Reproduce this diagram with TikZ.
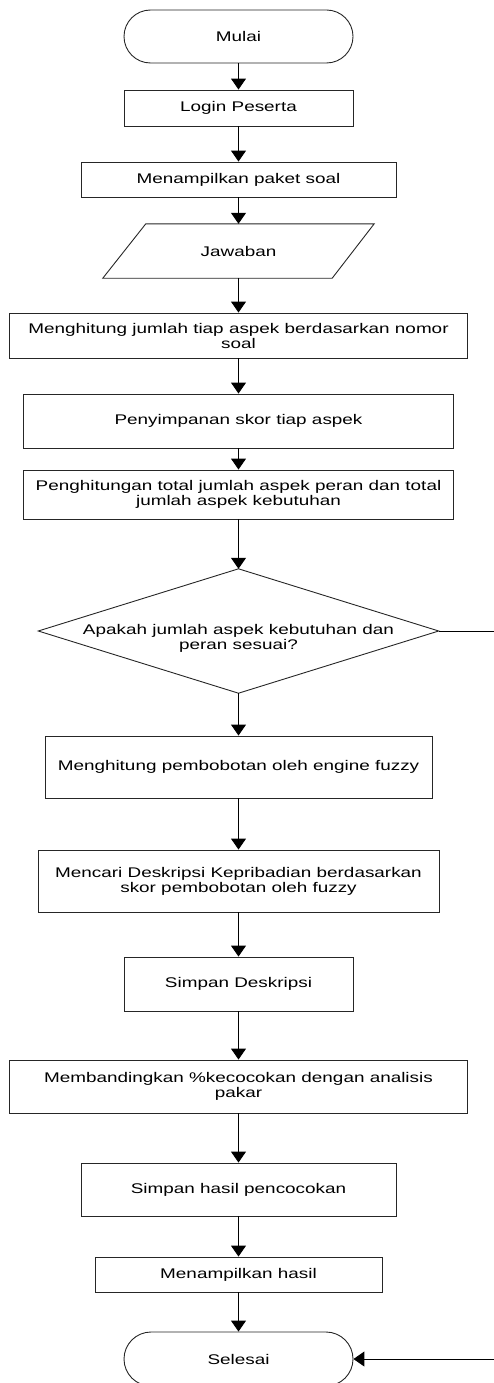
\documentclass[tikz,border=0pt]{standalone}
\usepackage{fontspec}
\setmainfont{Liberation Sans}[FakeStretch=1.35]
\usetikzlibrary{arrows.meta}
\begin{document}
\begin{tikzpicture}[x=1pt,y=-1pt,
  every node/.style={font=\fontsize{14}{15}\selectfont, align=center, inner sep=0pt},
  box/.style={draw=black!85, line width=0.9pt, rectangle},
  term/.style={draw=black!85, line width=0.9pt, rectangle, rounded corners=26.5pt, minimum width=229pt, minimum height=53pt},
  shp/.style={draw=black!85, line width=0.9pt},
  flow/.style={line width=1pt, black, -{Triangle[width=15pt,length=11pt]}}
]
\useasboundingbox (0,0) rectangle (493,1383);
\node[term] (mulai) at (238.5,36.5) {Mulai};
\node[box, minimum width=229pt, minimum height=36pt] (login) at (238.5,108) {Login Peserta};
\node[box, minimum width=315pt, minimum height=35pt] (paket) at (238.5,179.5) {Menampilkan paket soal};
\node[minimum width=229pt, minimum height=54pt] (jawab) at (238.5,251) {Jawaban};
\draw[shp] ([xshift=-21pt]jawab.south west) -- ([xshift=22pt]jawab.north west) -- ([xshift=21pt]jawab.north east) -- ([xshift=-21pt]jawab.south east) -- cycle;
\node[box, minimum width=458pt, minimum height=45pt] (hitung) at (238.5,335.5) {Menghitung jumlah tiap aspek berdasarkan nomor\\soal};
\node[box, minimum width=430pt, minimum height=54pt] (skor) at (238.5,421) {Penyimpanan skor tiap aspek};
\node[box, minimum width=430pt, minimum height=49pt] (total) at (238.5,494.5) {Penghitungan total jumlah aspek peran dan total\\jumlah aspek kebutuhan};
\node[minimum width=400pt, minimum height=124pt] (dia) at (238.5,631) {};
\draw[shp] (dia.north) -- (dia.east) -- (dia.south) -- (dia.west) -- cycle;
\node (dtext) at (238.5,638) {Apakah jumlah aspek kebutuhan dan\\peran sesuai?};
\node[box, minimum width=387pt, minimum height=62pt] (bobot) at (238.5,767) {Menghitung pembobotan oleh engine fuzzy};
\node[box, minimum width=401pt, minimum height=62pt] (cari) at (238.5,881) {Mencari Deskripsi Kepribadian berdasarkan\\skor pembobotan oleh fuzzy};
\node[box, minimum width=229pt, minimum height=54pt] (sdesk) at (238.5,984) {Simpan Deskripsi};
\node[box, minimum width=458pt, minimum height=53pt] (banding) at (238.5,1086.5) {Membandingkan \%kecocokan dengan analisis\\pakar};
\node[box, minimum width=315pt, minimum height=53pt] (shasil) at (238.5,1189.5) {Simpan hasil pencocokan};
\node[box, minimum width=287pt, minimum height=35pt] (tampil) at (238.5,1274.5) {Menampilkan hasil};
\node[term, minimum height=54pt, rounded corners=27pt] (selesai) at (238.5,1359) {Selesai};
\coordinate (rt) at (494,631);
\draw[flow] (mulai) -- (login);
\draw[flow] (login) -- (paket);
\draw[flow] (paket) -- (jawab);
\draw[flow] (jawab) -- (hitung);
\draw[flow] (hitung) -- (skor);
\draw[flow] (skor) -- (total);
\draw[flow] (total) -- (dia.north);
\draw[flow] (dia.south) -- (bobot);
\draw[flow] (bobot) -- (cari);
\draw[flow] (cari) -- (sdesk);
\draw[flow] (sdesk) -- (banding);
\draw[flow] (banding) -- (shasil);
\draw[flow] (shasil) -- (tampil);
\draw[flow] (tampil) -- (selesai);
\draw[flow] (dia.east) -- (rt) |- (selesai.east);
\end{tikzpicture}
\end{document}
